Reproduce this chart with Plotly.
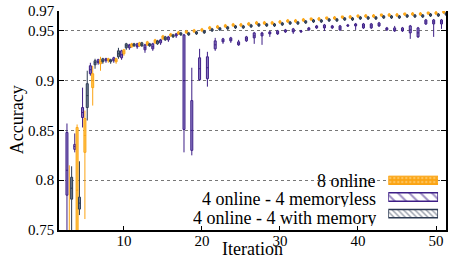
import plotly.graph_objects as go

iterations = list(range(3, 52))

# 8 online
on_q1 = [0.700,0.730,0.828,0.893,0.917,0.920,0.919,0.927,0.934,0.935,0.936,0.938,0.942,0.945,0.947,0.948,0.949,0.950,0.952,0.953,0.954,0.955,0.955,0.956,0.957,0.957,0.957,0.958,0.959,0.959,0.960,0.961,0.961,0.962,0.962,0.963,0.963,0.964,0.964,0.964,0.965,0.965,0.965,0.966,0.966,0.966,0.967,0.967,0.968]
on_med = [0.720,0.790,0.845,0.900,0.919,0.921,0.920,0.929,0.936,0.936,0.937,0.940,0.944,0.946,0.948,0.949,0.950,0.951,0.953,0.954,0.955,0.956,0.956,0.957,0.958,0.958,0.958,0.959,0.960,0.960,0.961,0.962,0.962,0.963,0.963,0.964,0.964,0.965,0.965,0.965,0.966,0.966,0.966,0.967,0.967,0.967,0.968,0.968,0.969]
on_q3 = [0.740,0.853,0.862,0.907,0.921,0.922,0.922,0.931,0.937,0.938,0.939,0.941,0.945,0.947,0.949,0.950,0.951,0.952,0.954,0.955,0.956,0.957,0.957,0.958,0.959,0.959,0.959,0.960,0.961,0.961,0.962,0.963,0.963,0.964,0.964,0.965,0.965,0.966,0.966,0.966,0.967,0.967,0.967,0.968,0.968,0.968,0.969,0.969,0.970]
on_lo = [0.650,0.700,0.761,0.875,0.910,0.918,0.917,0.925,0.933,0.934,0.935,0.937,0.941,0.944,0.946,0.947,0.948,0.949,0.951,0.952,0.953,0.954,0.954,0.955,0.956,0.956,0.956,0.957,0.958,0.958,0.959,0.960,0.960,0.961,0.961,0.962,0.962,0.963,0.963,0.963,0.964,0.964,0.964,0.965,0.965,0.965,0.966,0.966,0.967]
on_hi = [0.815,0.856,0.870,0.915,0.924,0.923,0.923,0.932,0.938,0.939,0.940,0.942,0.946,0.948,0.950,0.951,0.952,0.953,0.955,0.956,0.957,0.958,0.958,0.959,0.960,0.960,0.960,0.961,0.962,0.962,0.963,0.963,0.964,0.964,0.965,0.965,0.966,0.966,0.967,0.967,0.967,0.968,0.968,0.968,0.969,0.969,0.969,0.970,0.970]

# 4 online - 4 memoryless
ml_q1 = [0.785,0.831,0.863,0.907,0.918,0.920,0.920,0.923,0.933,0.934,0.931,0.932,0.938,0.941,0.945,0.851,0.830,0.901,0.902,0.932,0.939,0.940,0.936,0.940,0.943,0.945,0.947,0.947,0.949,0.949,0.949,0.951,0.953,0.953,0.953,0.951,0.955,0.955,0.953,0.953,0.955,0.951,0.950,0.950,0.948,0.944,0.957,0.957,0.957]
ml_med = [0.810,0.834,0.868,0.911,0.919,0.921,0.921,0.926,0.935,0.935,0.933,0.934,0.940,0.943,0.946,0.900,0.850,0.912,0.913,0.936,0.940,0.941,0.937,0.942,0.945,0.947,0.948,0.948,0.950,0.950,0.950,0.952,0.954,0.954,0.954,0.953,0.955,0.956,0.955,0.955,0.956,0.952,0.951,0.951,0.951,0.948,0.959,0.959,0.959]
ml_q3 = [0.848,0.836,0.873,0.915,0.921,0.922,0.923,0.930,0.936,0.937,0.936,0.937,0.941,0.944,0.947,0.946,0.880,0.923,0.924,0.940,0.942,0.943,0.939,0.944,0.948,0.948,0.949,0.950,0.951,0.952,0.950,0.953,0.955,0.956,0.955,0.955,0.956,0.957,0.957,0.957,0.958,0.953,0.953,0.953,0.955,0.953,0.961,0.961,0.961]
ml_lo = [0.700,0.828,0.853,0.905,0.916,0.918,0.918,0.921,0.931,0.932,0.928,0.930,0.936,0.939,0.943,0.828,0.825,0.900,0.894,0.930,0.937,0.938,0.935,0.939,0.937,0.936,0.944,0.946,0.948,0.947,0.948,0.950,0.952,0.950,0.952,0.950,0.954,0.951,0.952,0.952,0.954,0.950,0.949,0.949,0.942,0.943,0.956,0.944,0.952]
ml_hi = [0.857,0.847,0.893,0.918,0.922,0.923,0.924,0.931,0.937,0.938,0.937,0.938,0.942,0.945,0.948,0.947,0.913,0.932,0.929,0.943,0.943,0.944,0.941,0.945,0.949,0.949,0.950,0.951,0.952,0.953,0.951,0.954,0.956,0.957,0.956,0.956,0.957,0.958,0.958,0.958,0.959,0.954,0.955,0.954,0.956,0.954,0.962,0.962,0.962]

# 4 online - 4 with memory
wm_q1 = [0.781,0.771,0.873,0.916,0.919,0.919,0.924,0.933,0.935,0.935,0.935,0.937,0.941,0.944,0.946,0.946,0.947,0.948,0.950,0.951,0.952,0.953,0.953,0.954,0.955,0.955,0.955,0.956,0.957,0.957,0.958,0.959,0.959,0.960,0.960,0.961,0.961,0.962,0.962,0.962,0.963,0.963,0.963,0.964,0.964,0.964,0.965,0.965,0.966]
wm_med = [0.792,0.777,0.885,0.918,0.920,0.920,0.927,0.935,0.936,0.936,0.936,0.939,0.942,0.945,0.947,0.947,0.948,0.949,0.951,0.952,0.953,0.954,0.954,0.955,0.956,0.956,0.956,0.957,0.958,0.958,0.959,0.960,0.960,0.961,0.961,0.962,0.962,0.963,0.963,0.963,0.964,0.964,0.964,0.965,0.965,0.965,0.966,0.966,0.967]
wm_q3 = [0.803,0.783,0.897,0.920,0.922,0.921,0.930,0.937,0.937,0.938,0.937,0.940,0.944,0.946,0.948,0.948,0.949,0.950,0.952,0.953,0.954,0.955,0.955,0.956,0.957,0.957,0.957,0.958,0.959,0.959,0.960,0.961,0.961,0.962,0.962,0.963,0.963,0.964,0.964,0.964,0.965,0.965,0.965,0.966,0.966,0.966,0.967,0.967,0.968]
wm_lo = [0.700,0.765,0.860,0.912,0.917,0.917,0.922,0.931,0.934,0.934,0.934,0.936,0.940,0.943,0.945,0.945,0.946,0.947,0.949,0.950,0.951,0.952,0.952,0.953,0.954,0.954,0.954,0.955,0.956,0.956,0.957,0.958,0.958,0.959,0.959,0.960,0.960,0.961,0.961,0.961,0.962,0.962,0.962,0.963,0.963,0.963,0.964,0.964,0.965]
wm_hi = [0.814,0.819,0.910,0.922,0.923,0.922,0.933,0.938,0.938,0.939,0.938,0.941,0.945,0.947,0.949,0.949,0.950,0.951,0.953,0.954,0.955,0.956,0.956,0.957,0.958,0.958,0.958,0.959,0.960,0.960,0.961,0.962,0.962,0.963,0.963,0.964,0.964,0.965,0.965,0.965,0.966,0.966,0.966,0.967,0.967,0.967,0.968,0.968,0.969]

series_names = ["8 online", "4 online - 4 memoryless", "4 online - 4 with memory"]
y_ticks = [0.75, 0.8, 0.85, 0.9, 0.95, 0.97]
y_tick_text = ["0.75", "0.8", "0.85", "0.9", "0.95", "0.97"]
x_ticks = [10, 20, 30, 40, 50]

ORANGE = "#FBA414"
PURPLE = "#3D1E86"
SLATE = "#2B3A52"
FONT = "Liberation Serif"

fig = go.Figure()

def add_box(name, q1, med, q3, lo, hi, line, fill):
    fig.add_trace(go.Box(
        x=iterations, q1=q1, median=med, q3=q3, lowerfence=lo, upperfence=hi,
        name=name, boxpoints=False, whiskerwidth=0,
        line=dict(color=line, width=1), fillcolor=fill, showlegend=False,
    ))

# order gives left/middle/right offsets within each iteration
add_box(series_names[1], ml_q1, ml_med, ml_q3, ml_lo, ml_hi, PURPLE, "#8C7CC4")
add_box(series_names[0], on_q1, on_med, on_q3, on_lo, on_hi, ORANGE, "#FFC54D")
add_box(series_names[2], wm_q1, wm_med, wm_q3, wm_lo, wm_hi, SLATE, "#6F7D92")

# legend swatches on an overlay axis
sw_styles = [
    dict(color=ORANGE, pattern=dict(shape=".", fgcolor="#FFE0A0", bgcolor=ORANGE, size=4, solidity=0.3, fillmode="overlay"), line=dict(color=ORANGE, width=1)),
    dict(color="white", pattern=dict(shape="\\", fgcolor=PURPLE, bgcolor="white", size=8, solidity=0.25), line=dict(color=PURPLE, width=1.5)),
    dict(color="white", pattern=dict(shape="\\", fgcolor=SLATE, bgcolor="white", size=4, solidity=0.35), line=dict(color=SLATE, width=1.5)),
]
for nm, st in zip(series_names, sw_styles):
    fig.add_trace(go.Bar(
        x=[1], y=[nm], orientation="h", marker=st, xaxis="x2", yaxis="y2",
        showlegend=False, hoverinfo="skip", width=0.5,
    ))

L, R, T, B = 59, 3, 11, 28
W, H = 451, 258
pw, ph = W - L - R, H - T - B

def px_x(px):
    return (px - L) / pw

def px_y(py):
    return (H - B - py) / ph

fig.update_layout(
    width=W, height=H,
    margin=dict(l=L, r=R, t=T, b=B),
    paper_bgcolor="white", plot_bgcolor="white",
    boxmode="group", boxgap=0.1, boxgroupgap=0.15,
    barmode="overlay",
    font=dict(family=FONT, size=15, color="black"),
    xaxis=dict(
        range=[1.68, 51.28], tickvals=x_ticks, ticks="inside", ticklen=4,
        tickcolor="black", showline=True, linecolor="black", linewidth=1.5,
        showgrid=False, zeroline=False, tickfont=dict(size=15, family=FONT),
        ticklabelstandoff=-4,
    ),
    yaxis=dict(
        range=[0.75, 0.97], tickvals=y_ticks, ticktext=y_tick_text,
        ticks="inside", ticklen=5, tickcolor="black", showline=True,
        linecolor="black", linewidth=1.5, mirror="ticks", showgrid=True,
        gridcolor="#777777", griddash="dot", gridwidth=1, zeroline=False,
        tickfont=dict(size=15, family=FONT),
    ),
    xaxis2=dict(domain=[px_x(390), px_x(440)], range=[0, 1], visible=False, anchor="y2"),
    yaxis2=dict(domain=[px_y(222), px_y(172)], visible=False, anchor="x2",
                categoryorder="array", categoryarray=series_names[::-1]),
    shapes=[dict(type="rect", xref="paper", yref="paper",
                 x0=px_x(110), x1=1, y0=0.003, y1=px_y(168),
                 fillcolor="white", line=dict(width=0), layer="between")],
)

annos = [
    dict(text="Iteration", x=0.5, y=px_y(249), xref="paper", yref="paper",
         showarrow=False, font=dict(size=18, family=FONT), xanchor="center", yanchor="middle"),
    dict(text="Accuracy", x=px_x(17), y=px_y(120), xref="paper", yref="paper",
         showarrow=False, font=dict(size=18, family=FONT), textangle=-90,
         xanchor="center", yanchor="middle"),
]
for nm, yy in zip(series_names, [180.3, 198.7, 217]):
    annos.append(dict(text=nm, x=px_x(380), y=px_y(yy), xref="paper", yref="paper",
                      showarrow=False, font=dict(size=18, family=FONT), height=17,
                      xanchor="right", yanchor="middle"))
fig.update_layout(annotations=annos)

fig.write_html("out.html", config={"displayModeBar": False},
               post_script="document.body.style.margin='0';document.body.style.padding='0';")
